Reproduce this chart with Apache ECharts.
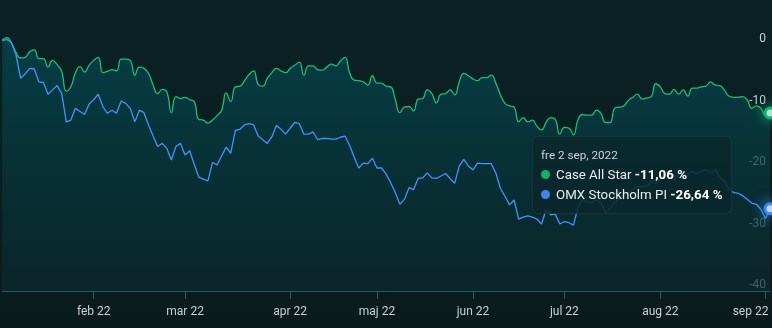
<!DOCTYPE html>
<html>
<head>
<meta charset="utf-8">
<script src="https://cdn.jsdelivr.net/npm/echarts@6/dist/echarts.min.js"></script>
<style>
html,body{margin:0;padding:0;background:#0a1d20;}
#chart{width:772px;height:328px;}
</style>
</head>
<body>
<div id="chart"></div>
<script>
// Trading days per month (2022)
const months = ['2022-01','2022-02','2022-03','2022-04','2022-05','2022-06','2022-07','2022-08','2022-09'];
const monthLabels = ['jan 22','feb 22','mar 22','apr 22','maj 22','jun 22','jul 22','aug 22','sep 22'];
const tradingDays = [
  [3,4,5,7,10,11,12,13,14,17,18,19,20,21,24,25,26,27,28,31],
  [1,2,3,4,7,8,9,10,11,14,15,16,17,18,21,22,23,24,25,28],
  [1,2,3,4,7,8,9,10,11,14,15,16,17,18,21,22,23,24,25,28,29,30,31],
  [1,4,5,6,7,8,11,12,13,14,19,20,21,22,25,26,27,28,29],
  [2,3,4,5,6,9,10,11,12,13,16,17,18,19,20,23,24,25,27,30,31],
  [1,2,3,7,8,9,10,13,14,15,16,17,20,21,22,23,27,28,29,30],
  [1,4,5,6,7,8,11,12,13,14,15,18,19,20,21,22,25,26,27,28,29],
  [1,2,3,4,5,8,9,10,11,12,15,16,17,18,19,22,23,24,25,26,29,30,31],
  [1,2]
];
const yTicks = [0,-10,-20,-30,-40];
const weekdays = ['sön','mån','tis','ons','tor','fre','lör'];
const monthShort = ['jan','feb','mar','apr','maj','jun','jul','aug','sep','okt','nov','dec'];

const caseAllStar = [
  0.8, 1.2, 0.3, -1.2, -2.1, -2.0, -1.1, -0.8, -2.2, -2.2,
  -3.6, -2.5, -3.2, -4.3, -7.5, -6.8, -4.5, -3.5, -4.4, -3.3,
  -2.5, -2.0, -4.5, -4.3, -4.0, -4.2, -2.3, -2.3, -2.5, -4.9,
  -3.6, -3.8, -4.6, -6.5, -7.9, -7.2, -7.6, -11.0, -8.4, -8.7,
  -8.5, -8.9, -9.2, -12.1, -12.2, -12.7, -12.2, -11.5, -10.6, -7.8,
  -9.2, -6.8, -6.7, -5.8, -4.8, -4.2, -6.4, -6.7, -5.4, -4.5,
  -3.8, -4.2, -4.5, -3.8, -3.3, -2.8, -4.9, -3.4, -3.4, -4.0,
  -4.1, -3.6, -3.1, -3.4, -2.6, -2.0, -4.5, -5.7, -5.8, -6.0,
  -6.5, -5.0, -6.2, -6.2, -6.7, -6.8, -8.9, -11.0, -10.1, -10.0,
  -10.7, -8.8, -8.7, -7.3, -7.9, -9.4, -8.0, -7.9, -7.3, -8.1,
  -6.0, -4.6, -5.0, -5.5, -5.8, -5.3, -5.3, -4.9, -6.2, -8.1,
  -9.5, -9.9, -10.1, -12.5, -11.8, -12.5, -12.2, -13.2, -13.8, -12.6,
  -11.8, -12.1, -14.5, -13.4, -13.5, -14.6, -12.1, -11.3, -11.4, -11.4,
  -10.6, -11.1, -12.6, -12.6, -10.3, -10.1, -9.9, -9.0, -8.5, -8.0,
  -8.8, -8.6, -8.4, -6.3, -6.8, -7.9, -8.0, -7.2, -8.0, -7.3,
  -8.3, -7.0, -7.0, -6.8, -6.7, -6.0, -6.5, -6.6, -7.3, -8.3,
  -8.5, -8.5, -8.4, -8.9, -10.3, -9.9, -10.3, -11.4, -11.06
];
const omxPI = [
  0.7, 0.9, 0.4, -1.6, -5.4, -4.7, -3.8, -3.9, -6.0, -6.1,
  -8.0, -7.3, -6.6, -7.9, -12.5, -12.2, -10.3, -10.8, -11.3, -9.6,
  -8.9, -8.0, -10.0, -11.1, -10.6, -11.1, -9.1, -9.5, -10.3, -12.5,
  -10.6, -11.0, -13.0, -14.8, -16.5, -16.0, -16.8, -18.7, -16.5, -16.0,
  -17.9, -17.2, -19.4, -21.5, -21.8, -22.1, -19.1, -19.5, -18.0, -16.6,
  -17.6, -13.9, -13.7, -13.0, -12.8, -13.0, -14.8, -15.4, -16.0, -14.9,
  -13.1, -13.7, -14.5, -13.5, -12.6, -12.8, -14.5, -14.5, -14.1, -15.4,
  -15.2, -15.2, -15.3, -15.3, -15.0, -14.8, -16.3, -18.2, -20.0, -19.2,
  -19.3, -18.4, -20.0, -20.0, -21.0, -22.4, -24.0, -25.9, -25.1, -23.2,
  -23.5, -21.7, -21.6, -20.8, -21.6, -21.7, -21.3, -20.9, -21.7, -22.5,
  -19.7, -18.6, -19.7, -20.3, -19.2, -19.3, -19.3, -19.3, -20.8, -23.3,
  -24.6, -26.0, -25.2, -28.3, -28.0, -27.8, -28.0, -28.3, -29.1, -26.8,
  -27.6, -27.5, -29.1, -28.7, -28.9, -29.3, -26.3, -25.1, -25.5, -25.7,
  -25.2, -25.7, -27.3, -26.6, -25.5, -25.0, -24.4, -24.0, -23.4, -23.1,
  -23.0, -23.0, -22.2, -22.5, -21.8, -20.6, -20.9, -22.0, -20.9, -21.1,
  -21.0, -20.6, -20.9, -20.5, -20.3, -20.9, -20.3, -21.4, -22.2, -23.4,
  -24.0, -24.1, -24.5, -25.1, -25.7, -25.9, -26.7, -28.2, -26.64
];
const seriesNames = ['Case All Star', 'OMX Stockholm PI'];
const seriesColors = ['#12b06e', '#3d86f2'];

// build categories
const dates = [];
const monthStart = {};
months.forEach((m, mi) => {
  tradingDays[mi].forEach((d, di) => {
    const s = m + '-' + String(d).padStart(2, '0');
    if (di === 0) monthStart[dates.length] = mi;
    dates.push(s);
  });
});
const lastMonthStartIdx = Math.max(...Object.keys(monthStart).map(Number));
const catData = dates.map((d, i) => (i === lastMonthStartIdx ? { value: d, textStyle: { align: 'right', padding: [0, -3, 0, 0] } } : d));
const isLabelIdx = (i) => i > 0 && monthStart[i] !== undefined;

function fmtNum(v) { return v.toFixed(2).replace('.', ',') + ' %'; }
function fmtDate(s) {
  const [y, m, d] = s.split('-').map(Number);
  const dt = new Date(y, m - 1, d);
  return weekdays[dt.getDay()] + ' ' + d + ' ' + monthShort[m - 1] + ', ' + y;
}

const chart = echarts.init(document.getElementById('chart'), null, { renderer: 'canvas' });
const font = 'Roboto, "Noto Sans", sans-serif';

const option = {
  animation: false,
  backgroundColor: new echarts.graphic.LinearGradient(0, 0, 0, 1, [
    { offset: 0, color: '#0a2124' },
    { offset: 1, color: '#0a1b1e' }
  ]),
  textStyle: { fontFamily: font },
  grid: { left: 2.3, right: 2, top: 14.25, bottom: 37, containLabel: false },
  xAxis: {
    type: 'category',
    data: catData,
    boundaryGap: false,
    axisLine: { show: true, onZero: false, lineStyle: { color: '#1c5e69', width: 1 } },
    axisTick: { show: true, length: 8, interval: (i) => isLabelIdx(i), lineStyle: { color: '#1c5e69' } },
    axisLabel: {
      interval: (i) => isLabelIdx(i),
      formatter: (v, i) => monthLabels[monthStart[i]] || '',
      color: '#c8d0d2', fontSize: 12, margin: 15, fontFamily: font
    },
    splitLine: { show: false }
  },
  yAxis: {
    type: 'value',
    position: 'right',
    min: -40, max: 5, interval: 5,
    axisLine: { show: false },
    axisTick: { show: false },
    splitLine: { show: false },
    axisLabel: {
      inside: true, margin: 4, color: '#c8d0d2', fontSize: 12, fontFamily: font,
      verticalAlign: 'bottom',
      formatter: (v) => (yTicks.indexOf(v) >= 0 ? String(v) : '')
    }
  },
  tooltip: {
    trigger: 'axis',
    triggerOn: 'none',
    alwaysShowContent: true,
    axisPointer: { type: 'none' },
    position: [532, 136],
    backgroundColor: 'rgba(9,40,44,0.86)',
    borderColor: 'rgba(255,255,255,0.06)',
    borderWidth: 1,
    borderRadius: 6,
    padding: [8, 10, 8, 8],
    extraCssText: 'box-shadow:none;width:200px;box-sizing:border-box;',
    formatter: (params) => {
      const idx = params[0].dataIndex;
      let html = '<div style="font-family:Roboto,sans-serif;font-size:11.7px;line-height:20px;color:#cdd5d6;">' + fmtDate(dates[idx]) + '</div>';
      params.forEach((p) => {
        html += '<div style="font-family:Roboto,sans-serif;font-size:13.3px;line-height:20px;color:#e6ecec;white-space:nowrap;">' +
          '<span style="display:inline-block;width:9px;height:9px;border-radius:50%;background:' + seriesColors[p.seriesIndex] + ';margin-right:6px;vertical-align:0px;"></span>' +
          p.seriesName + ' <b style="color:#ffffff;">' + fmtNum(p.value) + '</b></div>';
      });
      return html;
    }
  },
  series: [
    {
      name: seriesNames[0],
      type: 'line',
      data: caseAllStar,
      smooth: 0.5,
      showSymbol: false,
      symbol: 'circle',
      symbolSize: 10,
      lineStyle: { color: seriesColors[0], width: 1.3 },
      itemStyle: { color: seriesColors[0] },
      areaStyle: {
        origin: 'start',
        color: new echarts.graphic.LinearGradient(0, 0, 0, 1, [
          { offset: 0, color: '#04444d' },
          { offset: 0.45, color: '#06353b' },
          { offset: 1, color: '#0b2528' }
        ])
      },
      emphasis: {
        scale: false,
        lineStyle: { width: 1.3 },
        itemStyle: { color: '#d8f5e8', borderColor: seriesColors[0], borderWidth: 3, shadowBlur: 14, shadowColor: 'rgba(18,176,110,0.9)' }
      },
      z: 2
    },
    {
      name: seriesNames[1],
      type: 'line',
      data: omxPI,
      smooth: false,
      showSymbol: false,
      symbol: 'circle',
      symbolSize: 10,
      lineStyle: { color: seriesColors[1], width: 1.3 },
      itemStyle: { color: seriesColors[1] },
      emphasis: {
        scale: false,
        lineStyle: { width: 1.3 },
        itemStyle: { color: '#e4eeff', borderColor: seriesColors[1], borderWidth: 3, shadowBlur: 14, shadowColor: 'rgba(61,134,242,0.9)' }
      },
      z: 3
    }
  ]
};
chart.setOption(option);
chart.dispatchAction({ type: 'showTip', seriesIndex: 0, dataIndex: dates.length - 1 });
</script>
</body>
</html>
